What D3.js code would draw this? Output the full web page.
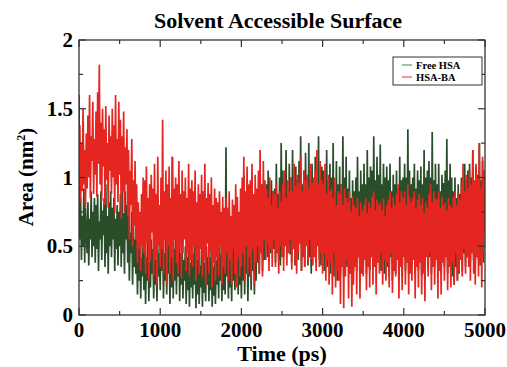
<!DOCTYPE html>
<html><head><meta charset="utf-8">
<script src="https://cdn.jsdelivr.net/npm/d3@7"></script>
<style>html,body{margin:0;padding:0;background:#fff;}svg{display:block;}</style>
</head><body>
<svg id="c" width="507" height="367"></svg>
<script>
// ---- data (time step 10 ps) ----
const timeStep = 10; // ps
const freeHSA = [
1.6,0.55,0.85,0.4,0.72,0.5,0.92,0.38,0.78,0.6,
0.45,0.82,0.36,0.7,0.55,0.9,0.42,0.75,0.5,0.85,
0.38,0.8,0.48,0.88,0.32,0.68,0.55,0.9,0.4,0.76,
0.58,0.85,0.35,0.95,0.45,0.72,0.3,0.82,0.5,0.9,
0.42,0.78,0.55,0.85,0.32,0.7,0.48,0.8,0.36,0.75,
0.5,0.88,0.35,0.96,0.45,0.74,0.3,0.9,0.55,0.8,
0.38,0.72,0.25,0.6,0.45,0.75,0.22,0.65,0.35,0.55,
0.3,0.55,0.15,0.48,0.25,0.6,0.12,0.42,0.28,0.52,
0.18,0.5,0.08,0.42,0.25,0.6,0.1,0.38,0.2,0.55,
0.3,0.48,0.12,0.55,0.22,0.4,0.1,0.5,0.28,0.45,
0.18,0.58,0.32,0.65,0.12,0.45,0.25,0.6,0.15,0.5,
0.3,0.55,0.08,0.62,0.2,1.15,0.12,0.48,0.25,0.58,
0.15,0.52,0.28,0.6,0.1,0.45,0.22,0.55,0.12,0.4,
0.25,0.5,0.08,0.42,0.18,0.55,0.06,0.38,0.2,0.48,
0.12,0.45,0.22,0.6,0.05,0.4,0.15,0.52,0.08,0.36,
0.2,0.48,0.06,0.55,0.16,0.38,0.1,0.5,0.22,0.42,
0.1,0.42,0.18,0.5,0.06,0.35,0.14,0.46,0.08,0.4,
0.22,0.5,0.12,0.6,0.25,0.44,0.1,0.55,0.18,0.48,
0.15,1.22,0.28,0.52,0.12,0.6,0.2,0.45,0.1,0.58,
0.25,0.62,0.18,0.5,0.3,0.7,0.15,0.55,0.22,0.48,
0.12,0.58,0.25,1.02,0.15,0.5,0.3,0.65,0.1,0.52,
0.28,0.7,0.18,0.8,0.32,0.6,0.15,0.72,0.25,0.65,
0.38,0.85,0.3,0.72,0.45,0.95,0.32,0.8,0.4,0.88,
0.52,0.95,0.42,1.05,0.6,0.85,0.45,0.98,0.55,0.9,
0.48,0.92,0.38,1.1,0.55,0.88,0.4,1.0,0.36,1.25,
0.5,1.05,0.42,0.95,0.58,1.2,0.45,0.9,0.52,1.1,
0.44,1.0,0.38,1.2,0.55,0.92,0.36,1.08,0.48,0.98,
0.4,1.12,0.52,1.3,0.32,0.95,0.45,1.05,0.35,1.18,
0.55,1.0,0.36,1.25,0.42,0.9,0.3,1.1,0.5,0.98,
0.45,1.15,0.38,1.0,0.52,1.3,0.4,0.95,0.36,1.08,
0.48,1.05,0.32,0.92,0.42,1.2,0.35,0.98,0.5,1.1,
0.3,1.0,0.45,1.25,0.28,0.9,0.4,1.12,0.25,0.95,
0.42,1.08,0.3,0.95,0.5,1.3,0.28,1.0,0.38,1.15,
0.35,0.92,0.45,1.05,0.3,0.85,0.4,0.98,0.32,0.9,
0.48,1.0,0.32,1.15,0.42,0.9,0.3,1.05,0.45,0.95,
0.36,1.1,0.45,0.95,0.3,1.2,0.4,1.0,0.33,1.08,
0.5,1.05,0.38,1.3,0.45,0.98,0.36,1.15,0.48,1.02,
0.4,1.24,0.32,0.95,0.45,1.1,0.3,1.0,0.42,1.08,
0.35,0.98,0.28,1.1,0.42,0.9,0.25,1.02,0.38,0.95,
0.3,1.05,0.4,0.92,0.26,1.15,0.36,0.98,0.28,1.0,
0.45,1.1,0.32,1.0,0.4,1.35,0.3,1.05,0.42,0.95,
0.36,1.0,0.45,1.1,0.3,0.92,0.4,1.05,0.33,0.98,
0.42,1.08,0.28,0.95,0.38,1.2,0.25,1.0,0.45,1.05,
0.32,1.12,0.42,1.0,0.3,1.33,0.4,0.98,0.35,1.1,
0.45,0.95,0.32,1.1,0.4,0.9,0.3,1.02,0.42,0.96,
0.35,1.05,0.44,1.28,0.3,0.98,0.4,1.1,0.33,1.0,
0.28,0.9,0.22,1.0,0.35,0.85,0.25,0.95,0.3,0.88,
0.4,1.0,0.32,0.92,0.45,1.1,0.35,0.98,0.42,1.05,
0.45,1.1,0.38,1.0,0.5,1.2,0.4,0.95,0.36,1.08,
0.48,1.02,0.4,1.25,0.36,0.98,0.45,1.12,0.38,1.05,
0.7];
const hsaBA = [
1.05,1.38,0.82,1.25,0.9,1.5,0.95,1.2,0.78,1.32,
0.92,1.45,1.0,1.6,0.85,1.3,1.12,1.55,0.88,1.28,
1.02,1.48,0.86,1.62,1.1,1.82,0.95,1.4,0.83,1.5,
1.08,1.35,0.8,1.52,0.98,1.25,0.78,1.45,1.05,1.3,
0.88,1.5,1.0,1.38,0.74,1.6,0.95,1.28,0.82,1.55,
1.02,1.42,0.7,1.3,0.9,1.48,0.75,1.22,0.95,1.35,
0.72,1.2,0.55,1.05,0.8,1.28,0.5,0.98,0.65,1.12,
0.55,0.95,0.38,0.82,0.48,0.75,0.32,0.88,0.5,1.0,
0.45,0.98,0.3,1.08,0.52,0.85,0.25,0.95,0.4,1.02,
0.6,0.92,0.28,1.1,0.42,0.88,0.22,1.15,0.5,0.8,
0.35,1.0,0.48,1.42,0.3,0.9,0.55,1.05,0.22,0.95,
0.5,1.08,0.3,0.85,0.42,1.15,0.25,0.92,0.55,1.0,
0.38,0.95,0.3,1.12,0.5,0.88,0.27,1.05,0.45,0.9,
0.55,1.0,0.32,0.85,0.45,1.1,0.28,0.92,0.4,0.98,
0.35,0.9,0.5,1.05,0.25,0.82,0.42,0.95,0.3,0.88,
0.48,1.02,0.28,0.9,0.4,1.1,0.22,0.85,0.52,0.96,
0.3,0.88,0.45,1.0,0.2,0.8,0.38,0.92,0.25,0.85,
0.42,0.82,0.28,0.9,0.5,0.75,0.22,0.86,0.35,0.78,
0.3,0.85,0.45,0.78,0.25,0.9,0.4,0.72,0.22,0.84,
0.48,0.8,0.3,0.95,0.2,0.86,0.42,0.75,0.28,0.92,
0.35,1.0,0.45,1.15,0.25,0.9,0.5,1.08,0.3,0.95,
0.42,0.98,0.28,1.1,0.48,0.88,0.22,1.02,0.38,0.92,
0.5,1.05,0.3,1.2,0.45,0.95,0.28,1.12,0.55,0.98,
0.4,0.92,0.52,0.85,0.32,1.0,0.48,0.8,0.35,0.9,
0.55,0.88,0.35,0.95,0.45,0.78,0.3,0.9,0.5,0.82,
0.42,0.95,0.32,1.05,0.5,0.85,0.36,0.98,0.45,0.9,
0.55,1.0,0.33,0.9,0.48,1.1,0.38,0.94,0.3,1.02,
0.45,0.96,0.52,1.15,0.32,0.9,0.42,1.05,0.35,0.98,
0.5,1.02,0.38,0.92,0.55,1.1,0.4,0.96,0.36,1.0,
0.42,1.05,0.32,1.2,0.5,0.95,0.35,1.12,0.45,0.98,
0.3,0.95,0.45,1.1,0.25,0.88,0.4,1.02,0.22,0.9,
0.38,0.92,0.15,0.85,0.45,1.0,0.2,0.8,0.32,0.9,
0.25,0.88,0.08,0.95,0.35,0.8,0.05,0.92,0.28,0.85,
0.4,0.82,0.12,0.9,0.3,0.75,0.06,0.86,0.22,0.8,
0.35,0.78,0.15,0.85,0.42,0.72,0.12,0.82,0.3,0.76,
0.28,0.8,0.4,0.85,0.18,0.74,0.35,0.82,0.2,0.78,
0.42,0.86,0.22,0.9,0.35,0.76,0.15,0.84,0.38,0.8,
0.3,0.82,0.45,0.76,0.22,0.85,0.4,0.72,0.25,0.8,
0.38,0.84,0.2,0.9,0.45,0.78,0.16,0.86,0.32,0.8,
0.28,0.88,0.4,0.95,0.12,0.82,0.35,0.9,0.18,0.85,
0.42,0.9,0.22,0.8,0.38,0.95,0.15,0.86,0.3,0.82,
0.25,0.85,0.4,0.9,0.12,0.78,0.35,0.84,0.2,0.88,
0.38,0.8,0.15,0.85,0.3,0.74,0.1,0.82,0.42,0.78,
0.28,0.88,0.45,0.95,0.18,0.82,0.35,0.9,0.22,0.85,
0.4,0.84,0.12,0.9,0.32,0.78,0.15,0.86,0.38,0.8,
0.25,0.82,0.42,0.76,0.18,0.85,0.35,0.8,0.2,0.78,
0.38,0.86,0.22,0.9,0.45,0.8,0.25,0.88,0.32,0.84,
0.4,0.95,0.28,1.1,0.48,0.9,0.3,1.02,0.42,0.92,
0.35,1.05,0.25,0.95,0.45,1.2,0.3,0.98,0.22,1.1,
0.42,1.0,0.28,1.25,0.38,0.92,0.2,1.15,0.45,1.05,
0.6];
const xTicks = [0,1000,2000,3000,4000,5000];
const yTicks = [0,0.5,1,1.5,2];
const seriesNames = ["Free HSA","HSA-BA"];
const seriesColors = ["#2a4d2a","#e5251f"];

// ---- layout ----
const svg = d3.select("#c");
const L = 79, R = 485, T = 40, B = 315;
const x = d3.scaleLinear().domain([0,5000]).range([L,R]);
const y = d3.scaleLinear().domain([0,2]).range([B,T]);
const font = "Liberation Serif, Tinos, DejaVu Serif, serif";

svg.append("clipPath").attr("id","pc").append("rect")
  .attr("x",L).attr("y",T).attr("width",R-L).attr("height",B-T);

const line = d3.line().x((d,i)=>x(i*timeStep)).y(d=>y(d));
const g = svg.append("g").attr("clip-path","url(#pc)");
[freeHSA, hsaBA].forEach((s,k)=>{
  g.append("path").datum(s).attr("d",line)
   .attr("fill","none").attr("stroke",seriesColors[k])
   .attr("stroke-width",1.7).attr("stroke-linejoin","bevel");
});

// frame
svg.append("rect").attr("x",L).attr("y",T).attr("width",R-L).attr("height",B-T)
  .attr("fill","none").attr("stroke","#333").attr("stroke-width",1.3);

// ticks (inside, on all four sides)
const tk = svg.append("g").attr("stroke","#333").attr("stroke-width",1.2);
d3.range(0,5001,500).forEach(v=>{
  const len = v%1000===0 ? 7 : 4;
  tk.append("line").attr("x1",x(v)).attr("x2",x(v)).attr("y1",B).attr("y2",B-len);
  tk.append("line").attr("x1",x(v)).attr("x2",x(v)).attr("y1",T).attr("y2",T+len);
});
d3.range(0,2.001,0.25).forEach(v=>{
  const len = Math.abs(v*2-Math.round(v*2))<1e-6 ? 7 : 4;
  tk.append("line").attr("y1",y(v)).attr("y2",y(v)).attr("x1",L).attr("x2",L+len);
  tk.append("line").attr("y1",y(v)).attr("y2",y(v)).attr("x1",R).attr("x2",R-len);
});

// tick labels
svg.append("g").selectAll("text").data(xTicks).join("text")
  .attr("x",d=>x(d)).attr("y",337).attr("text-anchor","middle")
  .attr("font-family",font).attr("font-weight","bold").attr("font-size",21)
  .text(d=>d);
svg.append("g").selectAll("text").data(yTicks).join("text")
  .attr("x",73).attr("y",d=>y(d)+7).attr("text-anchor","end")
  .attr("font-family",font).attr("font-weight","bold").attr("font-size",21)
  .text(d=>d);

// titles
svg.append("text").attr("x",278).attr("y",28).attr("text-anchor","middle")
  .attr("font-family",font).attr("font-weight","bold").attr("font-size",22)
  .text("Solvent Accessible Surface");
svg.append("text").attr("x",282).attr("y",361).attr("text-anchor","middle")
  .attr("font-family",font).attr("font-weight","bold").attr("font-size",22)
  .text("Time (ps)");
const yl = svg.append("text").attr("transform","translate(33,177) rotate(-90)")
  .attr("text-anchor","middle")
  .attr("font-family",font).attr("font-weight","bold").attr("font-size",21);
yl.append("tspan").text("Area (nm");
yl.append("tspan").attr("font-size",12).attr("dy",-8).text("2");
yl.append("tspan").attr("dy",8).text(")");

// legend
const lg = svg.append("g");
lg.append("rect").attr("x",393).attr("y",57).attr("width",89).attr("height",28)
  .attr("fill","#fff").attr("stroke","#333").attr("stroke-width",1);
seriesNames.forEach((n,i)=>{
  const yy = 65 + i*12;
  lg.append("line").attr("x1",402).attr("x2",412).attr("y1",yy).attr("y2",yy)
    .attr("stroke",i===0?"#5f9a5f":"#f05050").attr("stroke-width",1.2);
  lg.append("text").attr("x",416).attr("y",yy+3.8)
    .attr("font-family",font).attr("font-weight","bold").attr("font-size",10.5)
    .text(n);
});
</script>
</body></html>
